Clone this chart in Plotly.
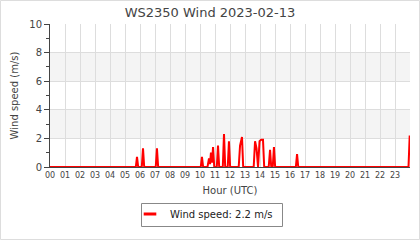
import plotly.graph_objects as go

# Time in decimal hours (UTC) and wind speed in m/s
hours = [0.0, 5.72, 5.8, 5.88, 6.12, 6.2, 6.28, 7.05, 7.13, 7.21,
         10.05, 10.13, 10.21, 10.5, 10.6, 10.67, 10.73, 10.8, 10.87, 10.95,
         11.12, 11.2, 11.28, 11.52, 11.6, 11.68, 11.85, 11.93, 12.01,
         12.58, 12.67, 12.8, 12.88, 13.58, 13.67, 13.77, 13.87, 13.97, 14.07, 14.2, 14.28,
         14.58, 14.67, 14.75, 14.85, 14.93, 15.01, 16.39, 16.47, 16.55, 23.9, 23.98]
speeds = [0.0, 0.0, 0.7, 0.0, 0.0, 1.3, 0.0, 0.0, 1.3, 0.0,
          0.0, 0.7, 0.0, 0.0, 0.6, 0.2, 1.0, 0.3, 1.4, 0.0,
          0.0, 1.5, 0.0, 0.0, 2.3, 0.0, 0.0, 1.8, 0.0,
          0.0, 1.5, 2.1, 0.0, 0.0, 1.8, 1.3, 0.0, 1.8, 1.9, 1.9, 0.0,
          0.0, 1.2, 0.0, 0.0, 1.4, 0.0, 0.0, 0.9, 0.0, 0.0, 2.2]
tick_vals = list(range(24))
tick_text = ["%02d" % h for h in tick_vals]
title = "WS2350 Wind 2023-02-13"
legend_label = "Wind speed: 2.2 m/s"

fig = go.Figure()
fig.add_trace(go.Scatter(x=hours, y=speeds, mode="lines", name=legend_label,
                         line=dict(color="#ff0000", width=2), showlegend=False))
# legend entry with a short line sample
fig.add_trace(go.Scatter(x=[None], y=[None], mode="markers", name=legend_label,
                         marker=dict(symbol="line-ew", size=9, color="#ff0000",
                                     line=dict(color="#ff0000", width=3)),
                         showlegend=True, hoverinfo="skip"))

L, R, T, B = 50, 10, 24, 73
W, H = 420, 240
pw, ph = W - L - R, H - T - B

def px(xp):
    return (xp - L) / pw

def py(yp):
    return (H - B - yp) / ph

shapes = []
for y0, y1 in [(2, 4), (6, 8)]:
    shapes.append(dict(type="rect", xref="paper", yref="y", x0=0, x1=1, y0=y0, y1=y1,
                       fillcolor="#f4f4f4", line=dict(width=0), layer="below"))
# outer frame
shapes.append(dict(type="rect", xref="paper", yref="paper",
                   x0=px(0.5), x1=px(W - 0.5), y0=py(H - 0.5), y1=py(0.5),
                   line=dict(color="#dddddd", width=1), fillcolor="rgba(0,0,0,0)"))
# legend frame
shapes.append(dict(type="rect", xref="paper", yref="paper",
                   x0=px(141.5), x1=px(282.5), y0=py(226.5), y1=py(203.5),
                   line=dict(color="#888888", width=1), fillcolor="rgba(0,0,0,0)"))

fig.update_layout(
    width=W, height=H,
    margin=dict(l=L, r=R, t=T, b=B, autoexpand=False),
    paper_bgcolor="white", plot_bgcolor="rgba(0,0,0,0)",
    font=dict(family="DejaVu Sans", color="#444444", size=10),
    title=dict(text=title, x=0.5, xanchor="center", y=1 - 12 / H, yanchor="middle",
               font=dict(size=13, color="#444444")),
    shapes=shapes,
    showlegend=True,
    legend=dict(orientation="h", x=px(130), xanchor="left", y=py(199.5), yanchor="top",
                borderwidth=0, font=dict(size=10, color="#222222"),
                bgcolor="rgba(0,0,0,0)"),
    xaxis=dict(range=[0, 24], tickmode="array", tickvals=tick_vals, ticktext=tick_text,
               showgrid=True, gridcolor="#dddddd", gridwidth=1,
               showline=True, linecolor="#444444", linewidth=1,
               ticks="", tickfont=dict(size=8, color="#444444"),
               title=dict(text="Hour (UTC)", font=dict(size=10), standoff=8),
               zeroline=False, fixedrange=True),
    yaxis=dict(range=[0, 10], tickmode="linear", tick0=0, dtick=2,
               showgrid=True, gridcolor="#dddddd", gridwidth=1,
               showline=True, linecolor="#444444", linewidth=1,
               ticks="outside", ticklen=5, tickcolor="#444444",
               minor=dict(dtick=1, ticks="outside", ticklen=3, tickcolor="#444444", showgrid=False),
               tickfont=dict(size=10, color="#444444"),
               title=dict(text="Wind speed (m/s)", font=dict(size=10), standoff=8),
               zeroline=False, fixedrange=True),
)

fig.write_html("out.html")
